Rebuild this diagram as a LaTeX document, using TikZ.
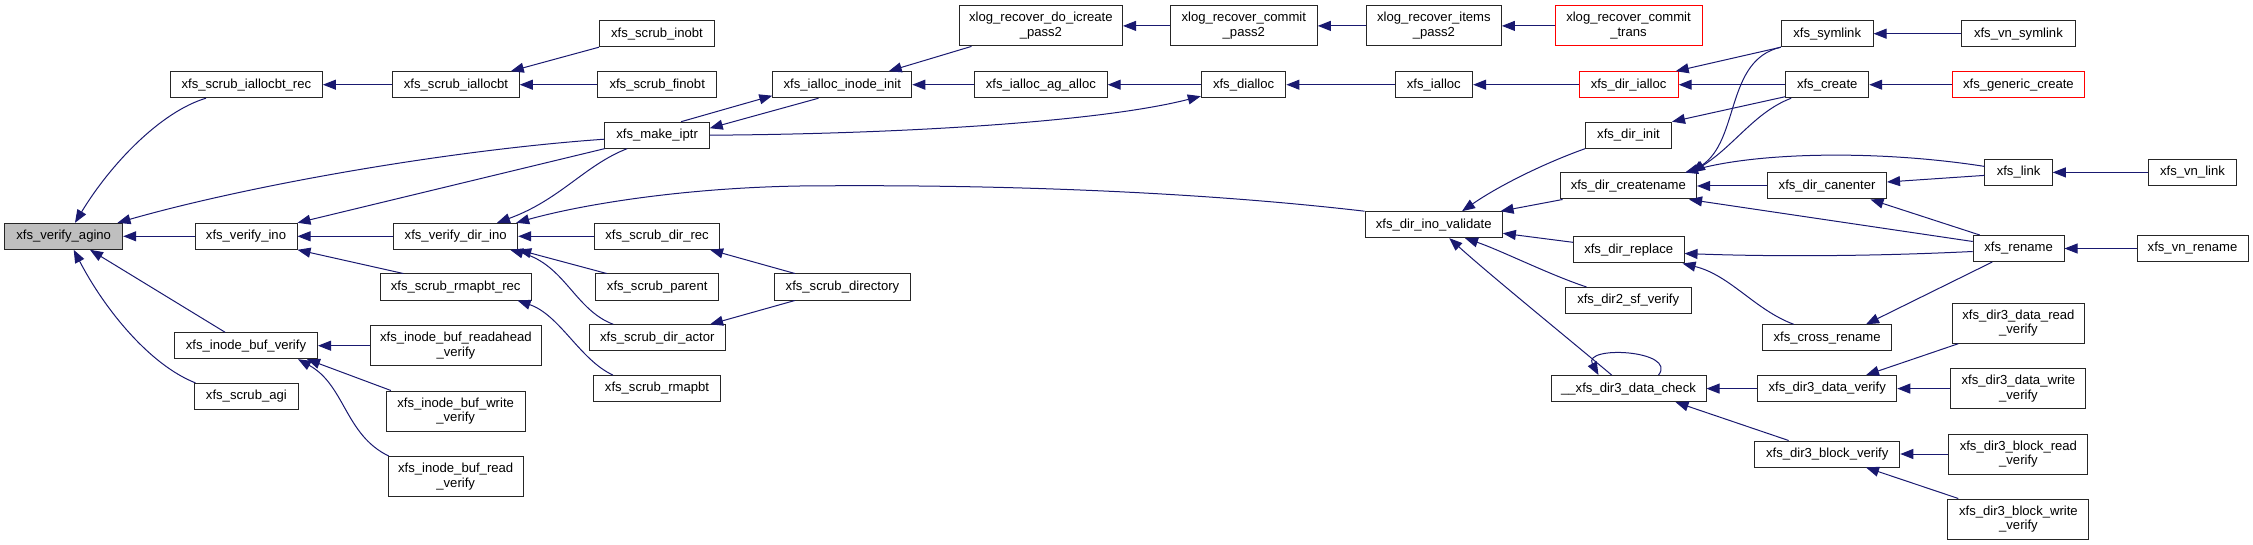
\documentclass[tikz,border=0pt]{standalone}
\usepackage{fontspec}
\setmainfont{Liberation Sans}
\usetikzlibrary{arrows.meta}
\definecolor{mblue}{RGB}{25,25,112}
\definecolor{nodegray}{RGB}{191,191,191}
\newcommand{\nfont}{\fontsize{13.1}{14.7}\selectfont}
\tikzset{
  nd/.style={draw=black!85, line width=1pt, fill=white, inner sep=0pt, minimum height=26pt, align=center, font=\nfont},
  ndd/.style={nd, minimum height=40pt},
  ndred/.style={draw=red},
  e/.style={draw=mblue, line width=1pt, -{Triangle[length=13pt,width=10pt]}}
}
\begin{document}
\begin{tikzpicture}[x=1pt,y=-1pt]
\useasboundingbox (0,0) rectangle (2253,545);
% column 1
\node[nd, fill=nodegray, minimum width=118pt] (agino) at (63.7,236.3) {xfs\_verify\_agino};
% column 2
\node[nd, minimum width=152pt] (iallocbtrec) at (246.4,84.7) {xfs\_scrub\_iallocbt\_rec};
\node[nd, minimum width=102pt] (verifyino) at (246,236.3) {xfs\_verify\_ino};
\node[nd, minimum width=143pt] (inodebufverify) at (246,345.7) {xfs\_inode\_buf\_verify};
\node[nd, minimum width=103.6pt] (scrubagi) at (246.4,396.4) {xfs\_scrub\_agi};
% column 3
\node[nd, minimum width=126.6pt] (iallocbt) at (456,84.7) {xfs\_scrub\_iallocbt};
\node[nd, minimum width=124pt] (verifydirino) at (455.7,236.3) {xfs\_verify\_dir\_ino};
\node[nd, minimum width=150.7pt] (rmapbtrec) at (455.7,287) {xfs\_scrub\_rmapbt\_rec};
\node[ndd, minimum width=171pt] (readahead) at (455.9,345.7) {xfs\_inode\_buf\_readahead\\\_verify};
\node[ndd, minimum width=138.6pt] (writeverify) at (455.7,411) {xfs\_inode\_buf\_write\\\_verify};
\node[ndd, minimum width=135pt] (readverify) at (455.7,476.5) {xfs\_inode\_buf\_read\\\_verify};
% column 4
\node[nd, minimum width=115pt] (scrubinobt) at (657,33.7) {xfs\_scrub\_inobt};
\node[nd, minimum width=119pt] (scrubfinobt) at (657.2,84.7) {xfs\_scrub\_finobt};
\node[nd, minimum width=104.3pt] (makeiptr) at (657.1,135.2) {xfs\_make\_iptr};
\node[nd, minimum width=125.7pt] (scrubdirrec) at (657.1,236.3) {xfs\_scrub\_dir\_rec};
\node[nd, minimum width=123pt] (scrubparent) at (657.2,287) {xfs\_scrub\_parent};
\node[nd, minimum width=136pt] (scrubdiractor) at (657.3,337.8) {xfs\_scrub\_dir\_actor};
\node[nd, minimum width=127.5pt] (scrubrmapbt) at (657,388.6) {xfs\_scrub\_rmapbt};
% column 5
\node[nd, minimum width=139pt] (iallocinodeinit) at (842.3,84.7) {xfs\_ialloc\_inode\_init};
\node[nd, minimum width=136.4pt] (scrubdirectory) at (842.5,287) {xfs\_scrub\_directory};
% column 6
\node[ndd, minimum width=163.2pt] (icreate) at (1040.9,25.9) {xlog\_recover\_do\_icreate\\\_pass2};
\node[nd, minimum width=132.6pt] (agalloc) at (1040.9,84.7) {xfs\_ialloc\_ag\_alloc};
% column 7
\node[ndd, minimum width=147pt] (commitpass2) at (1243.8,25.9) {xlog\_recover\_commit\\\_pass2};
\node[nd, minimum width=84.6pt] (dialloc) at (1243.6,84.7) {xfs\_dialloc};
% column 8
\node[ndd, minimum width=135pt] (itemspass2) at (1433.9,25.9) {xlog\_recover\_items\\\_pass2};
\node[nd, minimum width=77.6pt] (ialloc) at (1433.8,84.7) {xfs\_ialloc};
\node[nd, minimum width=137.3pt] (dirinovalidate) at (1433.7,224.7) {xfs\_dir\_ino\_validate};
% column 9
\node[ndd, ndred, minimum width=147pt] (committrans) at (1628.5,25.9) {xlog\_recover\_commit\\\_trans};
\node[nd, ndred, minimum width=99.2pt] (dirialloc) at (1628.6,84.7) {xfs\_dir\_ialloc};
\node[nd, minimum width=86pt] (dirinit) at (1628.5,135.2) {xfs\_dir\_init};
\node[nd, minimum width=136.5pt] (dircreatename) at (1628.3,186) {xfs\_dir\_createname};
\node[nd, minimum width=110.7pt] (dirreplace) at (1628.7,250) {xfs\_dir\_replace};
\node[nd, minimum width=125.7pt] (dirsfverify) at (1628.2,300.5) {xfs\_dir2\_sf\_verify};
\node[nd, minimum width=155pt] (datacheck) at (1628.5,388.6) {\_\_xfs\_dir3\_data\_check};
% column 10
\node[nd, minimum width=91.7pt] (symlink) at (1827.2,33.7) {xfs\_symlink};
\node[nd, minimum width=83pt] (create) at (1827.2,84.7) {xfs\_create};
\node[nd, minimum width=118.8pt] (canenter) at (1827.1,186) {xfs\_dir\_canenter};
\node[nd, minimum width=129.3pt] (crossrename) at (1827.1,337.8) {xfs\_cross\_rename};
\node[nd, minimum width=139.2pt] (dataverify) at (1827.2,388.6) {xfs\_dir3\_data\_verify};
\node[nd, minimum width=145.2pt] (blockverify) at (1827.2,454) {xfs\_dir3\_block\_verify};
% column 11
\node[nd, minimum width=114pt] (vnsymlink) at (2018.4,33.7) {xfs\_vn\_symlink};
\node[nd, ndred, minimum width=132pt] (genericcreate) at (2018.4,84.7) {xfs\_generic\_create};
\node[nd, minimum width=67.3pt] (link) at (2018.6,172.4) {xfs\_link};
\node[nd, minimum width=90.8pt] (rename) at (2018.6,248.5) {xfs\_rename};
\node[ndd, minimum width=132pt] (dataread) at (2018.4,323.2) {xfs\_dir3\_data\_read\\\_verify};
\node[ndd, minimum width=135pt] (datawrite) at (2018.4,388.6) {xfs\_dir3\_data\_write\\\_verify};
\node[ndd, minimum width=139pt] (blockread) at (2018.4,454) {xfs\_dir3\_block\_read\\\_verify};
\node[ndd, minimum width=141pt] (blockwrite) at (2018.4,519) {xfs\_dir3\_block\_write\\\_verify};
% column 12
\node[nd, minimum width=88.5pt] (vnlink) at (2192.5,172.4) {xfs\_vn\_link};
\node[nd, minimum width=111pt] (vnrename) at (2192.5,248.5) {xfs\_vn\_rename};

% edges (caller -> callee, arrow at callee)
\draw[e] ([xshift=-40.4pt]iallocbtrec.south) .. controls (160,112) and (110,165) .. ([xshift=11.3pt]agino.north);
\draw[e] ([yshift=-4pt]makeiptr.west) .. controls (450,150) and (250,185) .. ([xshift=-5.7pt]agino.north east);
\draw[e] (verifyino) -- (agino);
\draw[e] ([xshift=-21pt]inodebufverify.north) -- ([xshift=26.3pt]agino.south);
\draw[e] ([xshift=1.4pt]scrubagi.north west) .. controls (150,365) and (105,310) .. ([xshift=10pt]agino.south);
\draw[e] (iallocbt) -- (iallocbtrec);
\draw[e] (scrubinobt.south west) -- ([xshift=-9pt]iallocbt.north east);
\draw[e] (scrubfinobt) -- (iallocbt);
\draw[e] (makeiptr.south west) -- (verifyino.north east);
\draw[e] (verifydirino) -- (verifyino);
\draw[e] ([xshift=-52.4pt]rmapbtrec.north) -- (verifyino.south east);
\draw[e] ([xshift=-30pt]makeiptr.south) .. controls (585,165) and (560,200) .. ([xshift=41.3pt]verifydirino.north);
\draw[e] (dirinovalidate.north west) .. controls (1200,192) and (1000,184) .. (800,186) .. controls (680,188) and (580,205) .. ([xshift=-2pt]verifydirino.north east);
\draw[e] (scrubdirrec) -- (verifydirino);
\draw[e] ([xshift=-50.5pt]scrubparent.north) -- (verifydirino.south east);
\draw[e] ([xshift=-44pt]scrubdiractor.north) .. controls (575,310) and (565,265) .. ([xshift=-8pt]verifydirino.south east);
\draw[e] ([xshift=-44pt]scrubrmapbt.north) .. controls (580,360) and (560,315) .. ([xshift=-14pt]rmapbtrec.south east);
\draw[e] (readahead) -- (inodebufverify);
\draw[e] ([xshift=5pt]writeverify.north west) -- ([xshift=-11pt]inodebufverify.south east);
\draw[e] ([xshift=1pt]readverify.north west) .. controls (345,435) and (345,385) .. ([xshift=-20pt]inodebufverify.south east);
\draw[e] ([xshift=-23.7pt]iallocinodeinit.south) -- ([yshift=7pt]makeiptr.east);
\draw[e] ([xshift=24pt]makeiptr.north) -- ([yshift=-11pt]iallocinodeinit.west);
\draw[e] (makeiptr.east) .. controls (900,134) and (1100,122) .. ([yshift=2pt]dialloc.south west);
\draw[e] ([xshift=12.7pt]icreate.south west) -- ([xshift=-23.6pt]iallocinodeinit.north east);
\draw[e] (agalloc) -- (iallocinodeinit);
\draw[e] (commitpass2) -- (icreate);
\draw[e] (itemspass2) -- (commitpass2);
\draw[e] (committrans) -- (itemspass2);
\draw[e] (dialloc) -- (agalloc);
\draw[e] (ialloc) -- (dialloc);
\draw[e] (dirialloc) -- (ialloc);
\draw[e] (symlink.south west) -- ([xshift=-3pt]dirialloc.north east);
\draw[e] (create) -- (dirialloc);
\draw[e] ([yshift=1.5pt]create.south west) -- (dirinit.north east);
\draw[e] (dirinit.south west) .. controls (1545,163) and (1500,185) .. ([xshift=28.3pt]dirinovalidate.north);
\draw[e] ([xshift=3pt]dircreatename.south west) -- ([xshift=-2.3pt]dirinovalidate.north east);
\draw[e] ([yshift=7.7pt]dirreplace.west) -- ([yshift=-8.6pt]dirinovalidate.east);
\draw[e] ([xshift=21.7pt]dirsfverify.north west) .. controls (1550,275) and (1500,250) .. ([xshift=31.3pt]dirinovalidate.south);
\draw[e] ([xshift=-16.8pt]datacheck.north) .. controls (1570,340) and (1490,275) .. ([xshift=15.6pt]dirinovalidate.south);
\draw[e] ([xshift=30pt]datacheck.north) .. controls (1678,350) and (1582,345) .. ([xshift=-30pt]datacheck.north);
\draw[e] (symlink.south west) .. controls (1725,60) and (1740,140) .. ([xshift=-6pt]dircreatename.north east);
\draw[e] ([xshift=6pt]create.south west) .. controls (1755,112) and (1735,145) .. ([xshift=-5pt]dircreatename.north east);
\draw[e] ([yshift=6pt]link.west) .. controls (1880,150) and (1760,152) .. ([xshift=-12pt]dircreatename.north east);
\draw[e] (canenter) -- (dircreatename);
\draw[e] ([yshift=7pt]rename.west) -- ([xshift=-8pt]dircreatename.south east);
\draw[e] ([yshift=-3pt]link.west) -- ([yshift=4pt]canenter.east);
\draw[e] ([xshift=7pt]rename.north west) -- ([xshift=-16.5pt]canenter.south east);
\draw[e] ([yshift=-3pt]rename.west) .. controls (1880,256) and (1780,257) .. ([yshift=-3.5pt]dirreplace.east);
\draw[e] ([xshift=31.8pt]crossrename.north west) .. controls (1755,310) and (1730,275) .. ([xshift=-2pt]dirreplace.south east);
\draw[e] ([xshift=19.6pt]rename.south west) -- ([xshift=38.9pt]crossrename.north);
\draw[e] (vnsymlink) -- (symlink);
\draw[e] (genericcreate) -- (create);
\draw[e] (vnlink) -- (link);
\draw[e] (vnrename) -- (rename);
\draw[e] (dataverify) -- (datacheck);
\draw[e] ([xshift=-38.6pt]blockverify.north) -- ([xshift=-31pt]datacheck.south east);
\draw[e] ([xshift=6.4pt]dataread.south west) -- ([xshift=38.8pt]dataverify.north);
\draw[e] (datawrite) -- (dataverify);
\draw[e] (blockread) -- (blockverify);
\draw[e] ([xshift=10.9pt]blockwrite.north west) -- ([xshift=38.8pt]blockverify.south);
\draw[e] ([xshift=21.1pt]scrubdirectory.north west) -- ([xshift=-10.4pt]scrubdirrec.south east);
\draw[e] ([xshift=21.1pt]scrubdirectory.south west) -- ([xshift=-15.7pt]scrubdiractor.north east);
\end{tikzpicture}
\end{document}
